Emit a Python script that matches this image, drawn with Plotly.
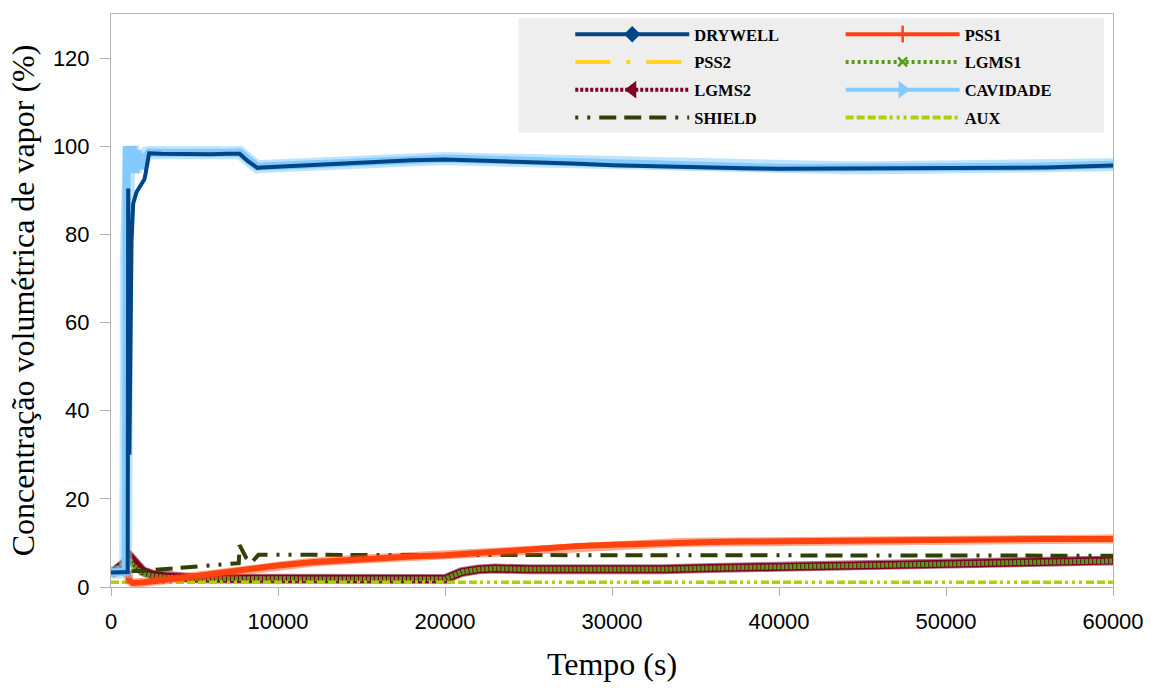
import plotly.graph_objects as go

# ---------------- data ----------------
t_dry = [0, 500, 1000, 1030, 1100, 1230, 1330, 1530, 1900, 2000, 2080, 2280, 3000, 4000,
         5000, 6000, 7000, 7700, 8200, 8770, 9000, 10000, 12000, 14000, 16000, 18000,
         20000, 22000, 24000, 26000, 28000, 30000, 32000, 34000, 36000, 38000, 40000,
         42000, 44000, 46000, 48000, 50000, 52000, 54000, 56000, 58000, 60000]
drywell = [3.3, 3.3, 3.4, 90.4, 30.0, 78.7, 87.0, 89.6, 91.6, 92.5, 94.0, 98.4, 98.3, 98.2,
           98.2, 98.2, 98.3, 98.3, 96.6, 95.1, 95.2, 95.4, 95.8, 96.2, 96.6, 96.8,
           97.0, 96.8, 96.6, 96.3, 96.0, 95.7, 95.5, 95.2, 95.1, 95.0, 94.9,
           94.9, 94.9, 94.9, 94.9, 94.9, 95.0, 95.1, 95.2, 95.4, 95.6]

t_cav = [0, 500, 880, 890, 900, 910, 920, 940, 1000, 1100, 1200, 1300, 1450, 1600, 1800,
         2000, 2150, 2300, 3000, 4000, 5000, 6000, 7000, 7700, 8200, 8770, 9000, 10000,
         12000, 14000, 16000, 18000, 20000, 22000, 24000, 26000, 28000, 30000, 32000,
         34000, 36000, 38000, 40000, 42000, 44000, 46000, 48000, 50000, 52000, 54000,
         56000, 58000, 60000]
cavidade = [3.3, 3.3, 3.5, 15.2, 17.8, 40.4, 74.7, 100.0, 94.0, 100.0, 95.0, 100.0, 94.0, 99.0,
            95.0, 97.5, 98.5, 98.6, 98.5, 98.4, 98.4, 98.4, 98.5, 98.6, 96.8, 95.3, 95.4, 95.6,
            96.0, 96.4, 96.8, 97.0, 97.2, 97.0, 96.8, 96.5, 96.2, 95.9, 95.7,
            95.4, 95.3, 95.2, 95.1, 95.1, 95.1, 95.1, 95.1, 95.1, 95.2, 95.3,
            95.4, 95.6, 95.8]

t_pss1 = [0, 500, 900, 1000, 1100, 1300, 1600, 2000, 3000, 4000, 5000, 6000, 7000, 8000,
          9000, 10000, 12000, 14000, 16000, 18000, 20000, 22000, 24000, 26000, 28000,
          30000, 32000, 34000, 36000, 38000, 40000, 42000, 44000, 46000, 48000, 50000,
          52000, 54000, 56000, 58000, 60000]
pss1 = [3.3, 3.4, 3.6, 3.0, 1.5, 0.9, 0.9, 1.1, 1.5, 2.0, 2.5, 3.0, 3.5, 4.0,
        4.5, 4.9, 5.6, 6.1, 6.5, 6.9, 7.2, 7.8, 8.4, 8.9, 9.3,
        9.6, 9.9, 10.1, 10.2, 10.3, 10.4, 10.5, 10.6, 10.7, 10.7, 10.8,
        10.8, 10.9, 10.9, 10.9, 10.9]

t_lgms = [0, 300, 600, 1000, 1150, 1300, 1600, 1900, 2500, 3300, 5000, 8000, 12000, 16000,
          20000, 20500, 21000, 22000, 23000, 25000, 28000, 30000, 33000, 36000, 40000,
          45000, 50000, 55000, 60000]
lgms2 = [3.0, 3.8, 4.8, 6.0, 6.8, 6.0, 4.8, 3.6, 2.8, 2.4, 2.0, 1.9, 1.8, 1.8,
         1.8, 2.6, 3.4, 4.0, 4.2, 4.0, 3.9, 3.9, 4.0, 4.3, 4.5,
         4.8, 5.2, 5.6, 6.0]
lgms1 = [3.0, 3.8, 4.8, 6.3, 6.0, 5.0, 3.8, 3.0, 2.5, 2.2, 1.9, 1.8, 1.8, 1.8,
         1.8, 2.6, 3.4, 4.0, 4.2, 4.0, 3.9, 3.9, 4.0, 4.3, 4.5,
         4.8, 5.2, 5.6, 5.9]
pss2 = [3.0, 3.6, 4.5, 5.8, 5.6, 4.6, 3.5, 2.8, 2.3, 2.1, 1.9, 1.8, 1.8, 1.8,
        1.8, 2.5, 3.3, 3.9, 4.1, 3.9, 3.8, 3.8, 3.9, 4.2, 4.4,
        4.7, 5.1, 5.5, 5.8]

t_shield = [0, 500, 1000, 1200, 2000, 3000, 4000, 5000, 6000, 7000, 7650, 7700, 8080, 8430,
            8830, 10000, 15000, 20000, 25000, 30000, 35000, 40000, 45000, 50000, 55000, 60000]
shield = [3.3, 3.8, 4.8, 3.6, 3.7, 4.0, 4.3, 4.6, 4.9, 5.2, 5.4, 9.5, 6.7, 5.6,
          7.3, 7.3, 7.3, 7.3, 7.3, 7.3, 7.3, 7.3, 7.2, 7.2, 7.2, 7.1]

t_aux = [0, 10000, 20000, 30000, 40000, 50000, 60000]
aux = [1.1, 1.1, 1.1, 1.1, 1.1, 1.1, 1.1]

x_ticks = [0, 10000, 20000, 30000, 40000, 50000, 60000]
y_ticks = [0, 20, 40, 60, 80, 100, 120]

C_DRY, C_PSS1, C_PSS2 = "#004586", "#ff420e", "#ffd320"
C_LG1, C_LG2, C_CAV = "#579d1c", "#7e0021", "#83caff"
C_SH, C_AUX = "#314004", "#aecf00"

D_PSS2 = "35px,16px,4px,16px"
D_SHIELD = "3px,9px,3px,9px,17px,8px,17px,8px,17px,9px"
D_AUX = "8px,3px,8px,3px,8px,3px,8px,3px,3px,4px,3px,4px,3px,4px"

fig = go.Figure()


def line(x, y, color, width, dash="solid", opacity=1.0):
    fig.add_trace(go.Scatter(x=x, y=y, mode="lines", showlegend=False, hoverinfo="skip",
                             opacity=opacity,
                             line=dict(color=color, width=width, dash=dash)))


# data marks (bottom to top)
line(t_lgms, pss2, C_PSS2, 4, D_PSS2)
line(t_lgms, lgms2, C_LG2, 10, "solid", 0.55)
line(t_lgms, lgms2, C_LG2, 8)
line(t_lgms, lgms1, C_LG1, 5, "3px,1px")
line(t_aux, aux, C_AUX, 3.5, D_AUX)
line(t_shield, shield, C_SH, 4, D_SHIELD)
line(t_pss1, pss1, C_PSS1, 9, "solid", 0.45)
line(t_pss1, pss1, C_PSS1, 6)
line(t_cav, cavidade, C_CAV, 13, "solid", 0.5)
line(t_cav, cavidade, C_CAV, 8)
line(t_dry, drywell, C_DRY, 4)


# legend entries
def entry(name, color, dash, symbol, msize, legend):
    mode = "lines+markers" if symbol else "lines"
    mk = dict(symbol=symbol or "circle", size=msize, color=color,
              line=dict(color=color, width=2.5))
    fig.add_trace(go.Scatter(x=[None], y=[None], mode=mode, name=name, legend=legend,
                             legendgroup=name,
                             line=dict(color=color, width=4, dash=dash), marker=mk))


entry("DRYWELL", C_DRY, "solid", "diamond", 10, "legend")
entry("PSS2", C_PSS2, D_PSS2, None, 0, "legend")
entry("LGMS2", C_LG2, "3px,2px", "triangle-left", 11, "legend")
entry("SHIELD", C_SH, D_SHIELD, None, 0, "legend")
entry("PSS1", C_PSS1, "solid", "line-ns", 12, "legend2")
entry("LGMS1", C_LG1, "3px,3px", "x-thin", 9, "legend2")
entry("CAVIDADE", C_CAV, "solid", "triangle-right", 11, "legend2")
entry("AUX", C_AUX, D_AUX, None, 0, "legend2")

leg_font = dict(family="Liberation Serif", size=16.5, color="black", weight="bold")
L, T, W, H = 111, 14, 1008, 575


def px_x(p):
    return (p - L) / W


def px_y(p):
    return (T + H - p) / H


fig.update_layout(
    width=1156, height=688,
    margin=dict(l=111, r=37, t=14, b=99),
    paper_bgcolor="white", plot_bgcolor="white",
    shapes=[dict(type="rect", xref="paper", yref="paper", layer="below",
                 x0=px_x(521), x1=px_x(1110), y0=px_y(133), y1=px_y(18),
                 fillcolor="#eeeeee", line=dict(width=0))],
    legend=dict(x=px_x(573), y=px_y(17), xanchor="left", yanchor="top",
                bgcolor="rgba(0,0,0,0)", font=leg_font, itemwidth=114,
                tracegroupgap=3.3, traceorder="grouped"),
    legend2=dict(x=px_x(845), y=px_y(17), xanchor="left", yanchor="top",
                 bgcolor="rgba(0,0,0,0)", font=leg_font, itemwidth=114,
                 tracegroupgap=3.3, traceorder="grouped"),
    xaxis=dict(range=[0, 60000], tickvals=x_ticks, tickformat="d",
               ticks="outside", ticklen=8, tickcolor="#b3b3b3",
               showline=True, linecolor="#b3b3b3", mirror=True,
               showgrid=False, zeroline=False, ticklabelstandoff=7,
               tickfont=dict(family="Liberation Sans", size=22, color="black"),
               title=dict(text="Tempo (s)", standoff=19,
                          font=dict(family="Liberation Serif", size=32, color="black"))),
    yaxis=dict(range=[0, 130], tickvals=y_ticks,
               ticks="outside", ticklen=10, tickcolor="#b3b3b3",
               showline=True, linecolor="#b3b3b3", mirror=True,
               showgrid=False, zeroline=False, ticklabelstandoff=6,
               tickfont=dict(family="Liberation Sans", size=22, color="black"),
               title=dict(text="Concentração volumétrica de vapor (%)", standoff=8,
                          font=dict(family="Liberation Serif", size=32, color="black"))),
)

fig.write_html("out.html")
